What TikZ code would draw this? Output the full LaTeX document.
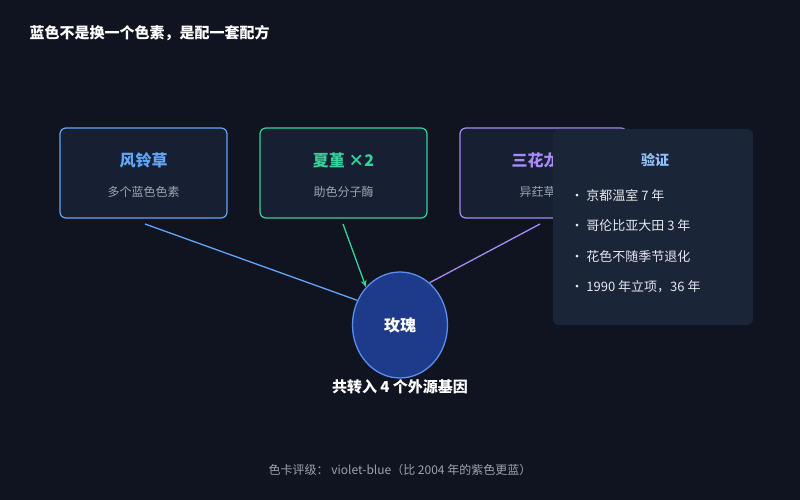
\documentclass[tikz,border=0pt]{standalone}
\usepackage{fontspec}
\setmainfont{Noto Sans CJK SC}
\usetikzlibrary{shapes.geometric,arrows.meta}
\definecolor{bg}{HTML}{0F1420}
\definecolor{boxf}{HTML}{172033}
\definecolor{panel}{HTML}{1B2538}
\definecolor{cb}{HTML}{60A5FA}
\definecolor{cg}{HTML}{34D399}
\definecolor{cp}{HTML}{A78BFA}
\definecolor{sub}{HTML}{9CA3AF}
\definecolor{itm}{HTML}{E5E7EB}
\definecolor{rose}{HTML}{1E3A8A}
\definecolor{roseb}{HTML}{5B8DEF}
\begin{document}
\begin{tikzpicture}[x=1pt,y=-1pt,
 box/.style={draw=#1,line width=1.2pt,fill=boxf,rounded corners=6pt,minimum width=167pt,minimum height=90pt},
 ttl/.style={font=\bfseries\fontsize{16}{18}\selectfont,text=#1},
 subt/.style={font=\fontsize{12}{14}\selectfont,text=sub},
 item/.style={font=\fontsize{13}{15}\selectfont,text=itm,anchor=west},
 conn/.style={draw=#1,line width=1.3pt}]
\fill[bg] (0,0) rectangle (800,500);
\useasboundingbox (0,0) rectangle (800,500);
\node[anchor=west,text=white,font=\bfseries\fontsize{15}{17}\selectfont] (title) at (26,33) {蓝色不是换一个色素，是配一套配方};
% boxes
\node[box=cb] (b1) at (143.5,173) {};
\node[box=cg] (b2) at (343.5,173) {};
\node[box=cp] (b3) at (543.5,173) {};
\node[ttl=cb] (t1) at (143.5,160) {风铃草};
\node[subt] (s1) at (143.5,192) {多个蓝色色素};
\node[ttl=cg] (t2) at (343.5,160) {夏堇 ×2};
\node[subt] (s2) at (343.5,192) {助色分子酶};
\node[ttl=cp] (t3) at (543.5,160) {三花龙胆};
\node[subt] (s3) at (543.5,192) {异荭草素};
% connectors
\coordinate (a1) at (145,224);
\coordinate (a2) at (343,224);
\coordinate (a3) at (540,224);
\node[ellipse,draw=roseb,line width=1.3pt,fill=rose,minimum width=95pt,minimum height=106pt,inner sep=0pt,text=white,font=\bfseries\fontsize{16}{18}\selectfont] (rose) at (400,325) {玫瑰};
\draw[conn=cb] (a1) -- (rose.150);
\draw[conn=cg,-{Stealth[length=7pt,width=6pt]}] (a2) -- (rose.north west);
\draw[conn=cp] (a3) -- (rose.55);
\node[text=white,font=\bfseries\fontsize{15}{17}\selectfont] (gene) at (400,387) {共转入 4 个外源基因};
% panel
\node[fill=panel,rounded corners=6pt,minimum width=200pt,minimum height=196pt] (panel) at (653,227) {};
\node[text=cb!70!white,font=\bfseries\fontsize{14}{16}\selectfont] (ph) at (655,160) {验证};
\node[item] (i1) at (567,196) {· 京都温室 7 年};
\node[item] (i2) at (567,226) {· 哥伦比亚大田 3 年};
\node[item] (i3) at (567,257) {· 花色不随季节退化};
\node[item] (i4) at (567,287) {· 1990 年立项，36 年};
\node[text=sub,font=\fontsize{12}{14}\selectfont] (foot) at (400,470) {色卡评级： violet-blue（比 2004 年的紫色更蓝）};
\end{tikzpicture}
\end{document}
